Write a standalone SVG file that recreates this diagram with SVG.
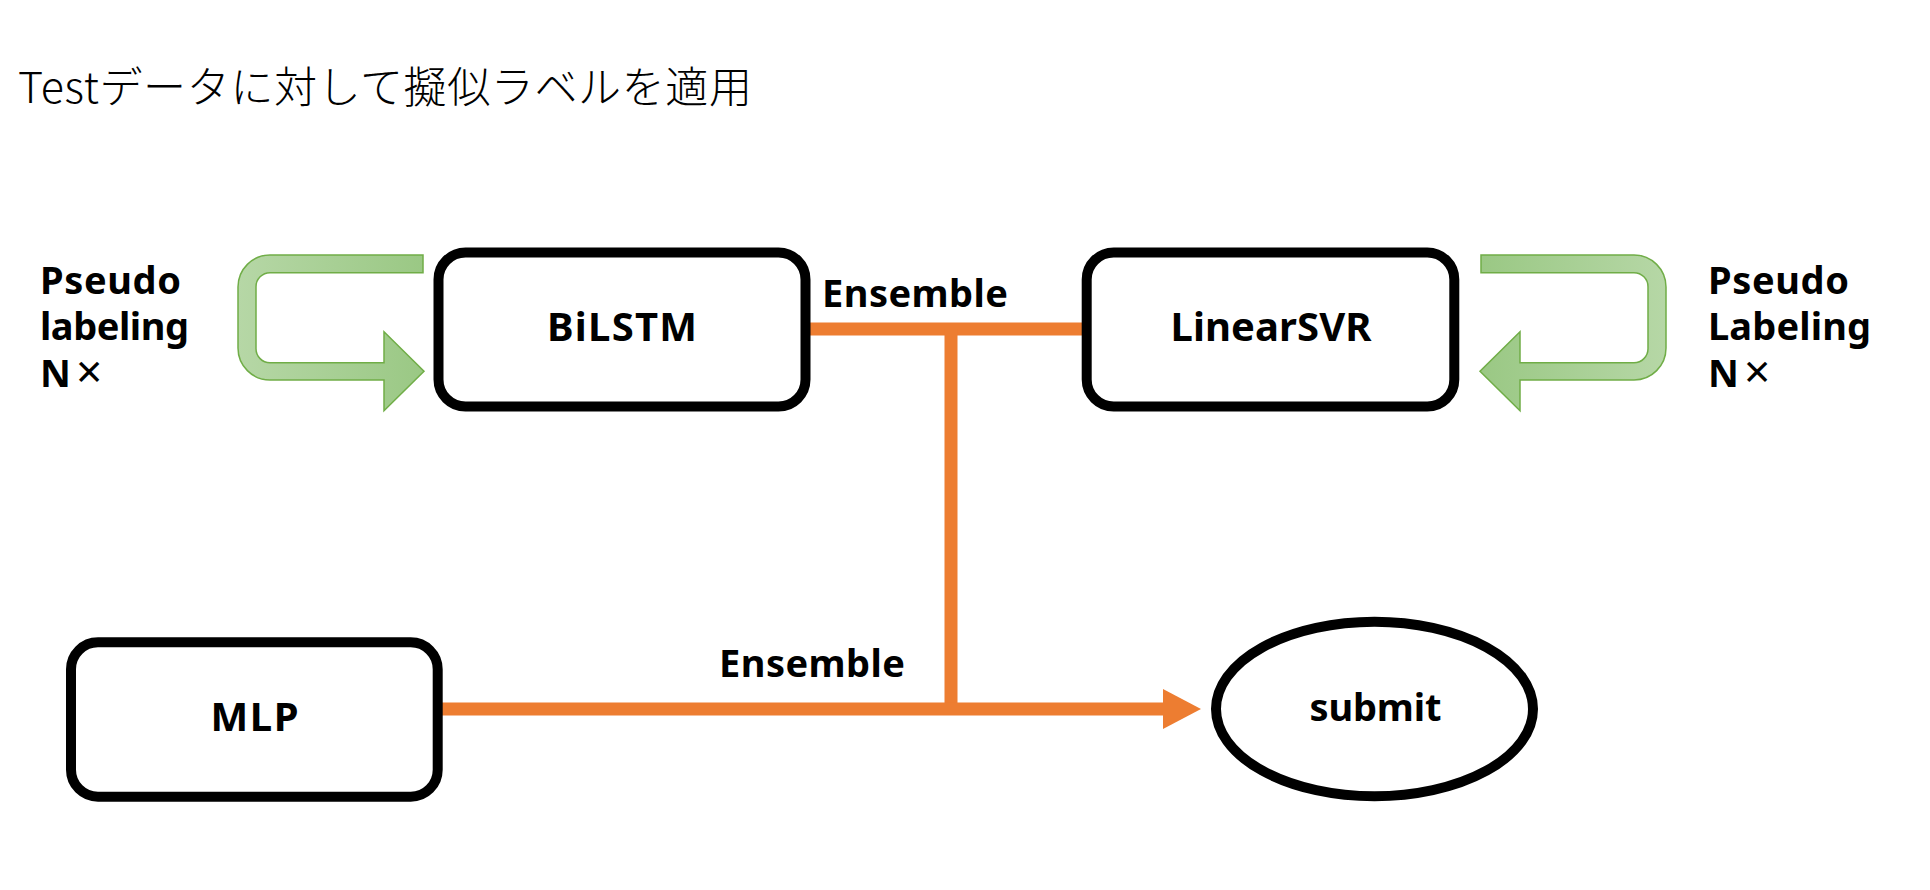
<svg xmlns="http://www.w3.org/2000/svg" width="1930" height="890" viewBox="0 0 1930 890">
<style>
.lbl{font-family:"Noto Sans","Noto Sans CJK JP",sans-serif;font-weight:700;font-size:38px;fill:#000}
.big{font-size:40px}
.mid{text-anchor:middle}
.x{font-weight:400;font-size:46px}
.title{font-family:"Noto Sans CJK JP","Noto Sans",sans-serif;font-weight:300;font-size:43px;fill:#000}
.box{fill:#fff;stroke:#000;stroke-width:10}
.conn{stroke:#ED7D31;stroke-width:13;fill:none}
.loop{fill:url(#g);stroke:#70AD47;stroke-width:1.5}
</style>
<defs>
<linearGradient id="g" x1="0" y1="0" x2="1" y2="0">
<stop offset="0" stop-color="#B6D7A6"/>
<stop offset="1" stop-color="#9AC884"/>
</linearGradient>
<marker id="ah" markerUnits="userSpaceOnUse" markerWidth="40" markerHeight="42" refX="0" refY="20" orient="auto" overflow="visible">
<path d="M0,0 L38,20 L0,40 Z" fill="#ED7D31"/>
</marker>
<path id="loopShape" d="M423,255 L270,255 A32,32 0 0 0 238,287 L238,348 A32,32 0 0 0 270,380 L384,380 L384,410.7 L424,371.3 L384,331.7 L384,362.7 L270,362.7 A14,14 0 0 1 256,348.7 L256,286.7 A14,14 0 0 1 270,272.7 L423,272.7 Z"/>
</defs>
<rect width="1930" height="890" fill="#fff"/>
<text class="title" x="18" y="102.5" textLength="734" lengthAdjust="spacing">Testデータに対して擬似ラベルを適用</text>

<g id="connectors">
<line class="conn" x1="806" y1="329" x2="1087" y2="329"/>
<line class="conn" x1="951" y1="329" x2="951" y2="709"/>
<line class="conn" x1="438" y1="709" x2="1163" y2="709" marker-end="url(#ah)"/>
<text class="lbl" x="822" y="307" textLength="186">Ensemble</text>
<text class="lbl" x="719" y="677" textLength="186">Ensemble</text>
</g>

<g id="loop-left">
<use href="#loopShape" class="loop"/>
<text class="lbl"><tspan x="40" y="294" textLength="141">Pseudo</tspan><tspan x="40" y="340" textLength="149">labeling</tspan><tspan x="40" y="387">N</tspan><tspan class="x" x="76" y="388">×</tspan></text>
</g>

<g id="loop-right">
<use href="#loopShape" class="loop" transform="translate(1904,0) scale(-1,1)"/>
<text class="lbl"><tspan x="1708" y="294" textLength="141">Pseudo</tspan><tspan x="1708" y="340" textLength="163">Labeling</tspan><tspan x="1708" y="387">N</tspan><tspan class="x" x="1744" y="388">×</tspan></text>
</g>

<g id="bilstm">
<rect class="box" x="438.5" y="252.5" width="367" height="154" rx="27"/>
<text class="lbl big mid" x="622" y="341" textLength="150">BiLSTM</text>
</g>

<g id="linearsvr">
<rect class="box" x="1086.7" y="252.5" width="367.6" height="154" rx="27"/>
<text class="lbl big mid" x="1271" y="341" textLength="201">LinearSVR</text>
</g>

<g id="mlp">
<rect class="box" x="71" y="642.3" width="366.7" height="154.4" rx="27"/>
<text class="lbl big mid" x="254.5" y="731" textLength="88">MLP</text>
</g>

<g id="submit">
<ellipse class="box" cx="1374.5" cy="709" rx="158.5" ry="87.3"/>
<text class="lbl mid" x="1375.5" y="721" textLength="132">submit</text>
</g>
</svg>
